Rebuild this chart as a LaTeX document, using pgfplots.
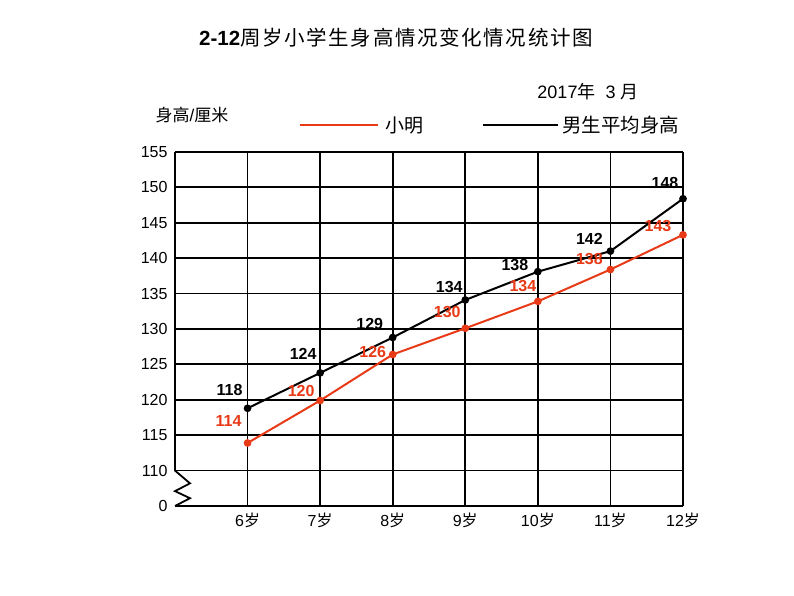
\documentclass[border=0pt]{standalone}
\usepackage{pgfplots}
\pgfplotsset{compat=1.18}
\usepackage{fontspec}
\setmainfont{Liberation Sans}
\newfontfamily\cjk{Noto Sans CJK SC}
\newfontfamily\cjkt[LetterSpace=8]{Noto Sans CJK SC}
\definecolor{xmred}{RGB}{232,58,22}
\pgfplotstableread{
x y label dx dy
6 118.8 118 -18 18
7 123.8 124 -17 19
8 128.8 129 -23 14
9 134.1 134 -16 13
10 138.1 138 -23 7
11 141.0 142 -21 12
12 148.4 148 -18 16
}\avgtable
\pgfplotstableread{
x y label dx dy
6 113.9 114 -19 22
7 119.9 120 -19 10
8 126.4 126 -20 2
9 130.1 130 -18 16
10 133.9 134 -15 15
11 138.4 138 -21 11
12 143.3 143 -25 9
}\xmtable
\begin{document}
\begin{tikzpicture}[x=1pt,y=1pt]
\begin{axis}[
  name=ax, at={(0,0)}, anchor=south west,
  scale only axis, width=508pt, height=354pt,
  xmin=5, xmax=12, ymin=105, ymax=155,
  clip=false,
  axis line style={draw=none},
  grid=major,
  major grid style={black, line width=1.8pt},
  major tick length=0pt,
  xtick={6,7,8,9,10,11,12},
  xticklabels={6{\cjk 岁},7{\cjk 岁},8{\cjk 岁},9{\cjk 岁},10{\cjk 岁},11{\cjk 岁},12{\cjk 岁}},
  ytick={105,110,115,120,125,130,135,140,145,150,155},
  yticklabels={0,110,115,120,125,130,135,140,145,150,155},
  tick label style={font=\fontsize{16}{19}\selectfont},
  xticklabel style={yshift=-3pt},
  yticklabel style={xshift=-4pt},
  /pgf/number format/assume math mode=true,
]
\addplot[black, line width=2pt, mark=*, mark size=2.8pt,
  nodes near coords, point meta=explicit symbolic,
  visualization depends on={\thisrow{dx} \as \ddx},
  visualization depends on={\thisrow{dy} \as \ddy},
  every node near coord/.style={anchor=center, black, inner sep=0pt,
    font=\fontsize{16}{19}\selectfont\bfseries, xshift=\ddx pt, yshift=\ddy pt}]
  table[x=x, y=y, meta=label] {\avgtable};
\addplot[xmred, line width=2pt, mark=*, mark size=2.8pt,
  nodes near coords, point meta=explicit symbolic,
  visualization depends on={\thisrow{dx} \as \ddx},
  visualization depends on={\thisrow{dy} \as \ddy},
  every node near coord/.style={anchor=center, xmred, inner sep=0pt,
    font=\fontsize{16}{19}\selectfont\bfseries, xshift=\ddx pt, yshift=\ddy pt}]
  table[x=x, y=y, meta=label] {\xmtable};
% left axis line and break mark
\draw[black, line width=1.8pt] (axis cs:5,155) -- (axis cs:5,110);
\draw[black, line width=1.8pt, line join=miter] (axis cs:5,110) -- ([xshift=15pt]axis cs:5,108.2) -- (axis cs:5,107.1) -- ([xshift=15pt]axis cs:5,106.1) -- (axis cs:5,105);
\end{axis}
\pgfresetboundingbox
\path (-175,-90) rectangle (619,506);
% title
\node[anchor=center] at (221,468) {\fontsize{20.5}{24}\selectfont\textbf{2-12}{\cjkt 周岁小学生身高情况变化情况统计图}};
% y label
\node[anchor=center] at (17,391) {\fontsize{17}{20}\selectfont{\cjk 身高}/{\cjk 厘米}};
% date
\node[anchor=center] at (413,414) {\fontsize{18}{21}\selectfont 2017{\cjk 年}\ \ 3 {\cjk 月}};
% legend
\draw[xmred, line width=2pt] (125,381) -- (203,381);
\node[anchor=west, inner sep=0pt] at (210,381) {\fontsize{19}{22}\selectfont\cjk 小明};
\draw[black, line width=2.2pt] (308,381) -- (383,381);
\node[anchor=west, inner sep=0pt] at (387,381) {\fontsize{19.5}{22}\selectfont\cjk 男生平均身高};
\end{tikzpicture}
\end{document}
